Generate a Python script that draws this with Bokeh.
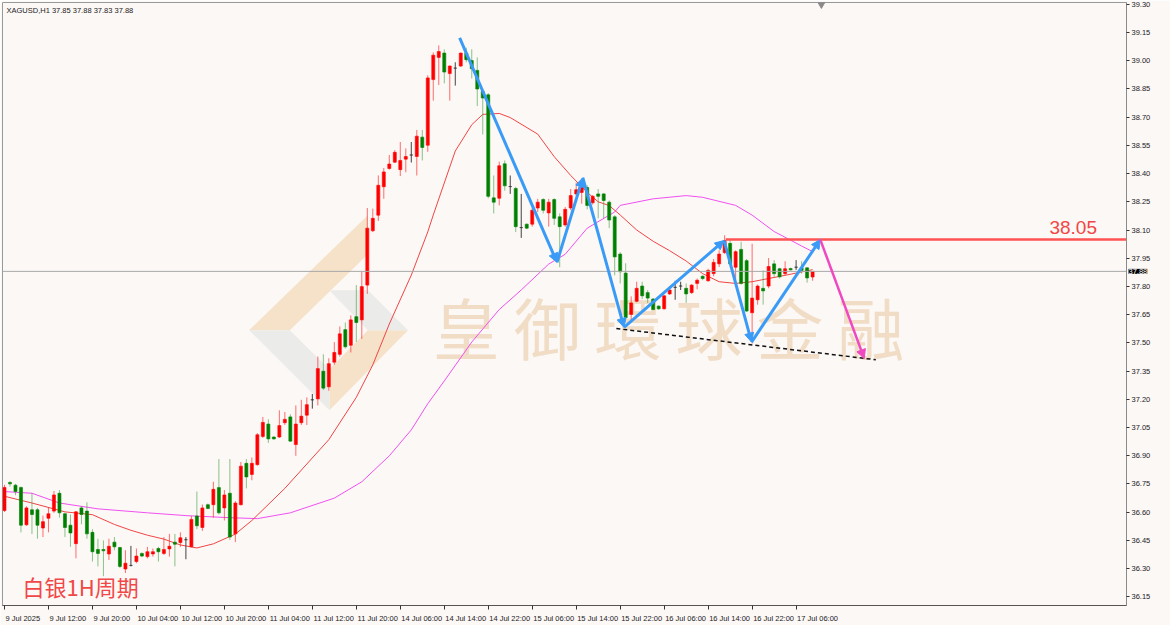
from bokeh.plotting import figure
from bokeh.models import (ColumnDataSource, Range1d, FixedTicker, Label, Span, LinearAxis,
                          Arrow, NormalHead, PrintfTickFormatter)
from bokeh.embed import file_html
from bokeh.resources import INLINE
from bokeh.core.properties import value

# ---------------- data (XAGUSD H1) ----------------
opens = [36.608, 36.757, 36.743, 36.731, 36.532, 36.612, 36.612, 36.515, 36.567, 36.605,
         36.700, 36.591, 36.530, 36.432, 36.622, 36.605, 36.492, 36.401, 36.401, 36.377,
         36.440, 36.411, 36.297, 36.316, 36.337, 36.380, 36.363, 36.377, 36.406, 36.380,
         36.404, 36.440, 36.438, 36.453, 36.415, 36.579, 36.518, 36.639, 36.639, 36.730,
         36.622, 36.700, 36.484, 36.639, 36.859, 36.800, 36.852, 37.002, 37.068, 36.999,
         36.999, 37.075, 37.106, 36.959, 37.075, 37.115, 37.197, 37.202, 37.349, 37.266,
         37.397, 37.439, 37.570, 37.487, 37.639, 37.622, 37.807, 38.096, 38.179, 38.330,
         38.427, 38.461, 38.421, 38.477, 38.499, 38.491, 38.594, 38.551, 38.900, 39.018,
         39.041, 38.932, 38.961, 38.972, 39.041, 39.001, 38.949, 38.837, 38.819, 38.271,
         38.269, 38.452, 38.331, 38.321, 38.113, 38.131, 38.131, 38.217, 38.262, 38.191,
         38.262, 38.170, 38.127, 38.217, 38.292, 38.300, 38.326, 38.245, 38.292, 38.292,
         38.248, 38.170, 37.972, 37.871, 37.651, 37.721, 37.802, 37.767, 37.733, 37.695,
         37.681, 37.760, 37.795, 37.802, 37.790, 37.767, 37.816, 37.854, 37.830, 37.868,
         37.920, 37.980, 38.029, 37.902, 37.997, 37.937, 37.660, 37.729, 37.790, 37.802,
         37.920, 37.894, 37.868, 37.895, 37.902, 37.899, 37.899, 37.850]
highs = [36.745, 36.765, 36.750, 36.735, 36.631, 36.700, 36.622, 36.581, 36.626, 36.712,
         36.717, 36.596, 36.587, 36.605, 36.631, 36.652, 36.509, 36.458, 36.449, 36.458,
         36.467, 36.415, 36.397, 36.420, 36.406, 36.385, 36.415, 36.406, 36.415, 36.467,
         36.484, 36.484, 36.492, 36.467, 36.579, 36.709, 36.640, 36.645, 36.761, 36.882,
         36.717, 36.882, 36.658, 36.866, 36.882, 36.890, 37.020, 37.106, 37.093, 37.003,
         37.141, 37.132, 37.120, 37.167, 37.197, 37.210, 37.228, 37.427, 37.439, 37.418,
         37.504, 37.587, 37.608, 37.646, 37.807, 37.882, 38.217, 38.214, 38.390, 38.430,
         38.499, 38.525, 38.568, 38.534, 38.568, 38.632, 38.632, 38.923, 39.044, 39.082,
         39.061, 38.975, 38.992, 39.043, 39.070, 39.061, 39.018, 38.845, 38.828, 38.390,
         38.464, 38.470, 38.390, 38.330, 38.292, 38.135, 38.217, 38.266, 38.269, 38.266,
         38.269, 38.188, 38.222, 38.318, 38.352, 38.352, 38.338, 38.286, 38.318, 38.297,
         38.257, 38.179, 37.982, 37.923, 37.747, 37.825, 37.825, 37.781, 37.738, 37.700,
         37.755, 37.799, 37.830, 37.825, 37.816, 37.812, 37.842, 37.859, 37.894, 37.946,
         37.992, 38.072, 38.049, 37.992, 38.037, 37.946, 38.027, 37.810, 37.885, 37.951,
         37.940, 37.899, 37.934, 37.900, 37.940, 37.934, 37.902, 37.880]
lows = [36.600, 36.735, 36.690, 36.492, 36.527, 36.483, 36.458, 36.467, 36.492, 36.596,
        36.570, 36.467, 36.415, 36.354, 36.535, 36.458, 36.337, 36.311, 36.259, 36.345,
        36.397, 36.302, 36.276, 36.311, 36.328, 36.360, 36.354, 36.363, 36.337, 36.372,
        36.363, 36.311, 36.415, 36.349, 36.413, 36.509, 36.500, 36.615, 36.570, 36.587,
        36.555, 36.451, 36.440, 36.635, 36.726, 36.769, 36.847, 36.994, 36.968, 36.985,
        36.994, 37.063, 36.974, 36.899, 37.063, 37.063, 37.150, 37.167, 37.249, 37.245,
        37.383, 37.427, 37.470, 37.449, 37.504, 37.521, 37.760, 38.089, 38.148, 38.266,
        38.421, 38.456, 38.387, 38.407, 38.459, 38.390, 38.470, 38.516, 38.788, 38.871,
        38.880, 38.788, 38.868, 38.967, 38.992, 38.906, 38.759, 38.608, 38.269, 38.188,
        38.231, 38.309, 38.292, 38.089, 38.058, 38.105, 38.118, 38.196, 38.188, 38.118,
        38.127, 37.902, 38.118, 38.205, 38.283, 38.240, 38.210, 38.235, 38.162, 38.162,
        38.110, 37.859, 37.816, 37.625, 37.617, 37.716, 37.733, 37.712, 37.674, 37.675,
        37.677, 37.755, 37.729, 37.781, 37.712, 37.760, 37.785, 37.833, 37.825, 37.854,
        37.903, 37.972, 37.916, 37.825, 37.810, 37.665, 37.496, 37.703, 37.703, 37.790,
        37.851, 37.842, 37.859, 37.885, 37.888, 37.868, 37.820, 37.830]
closes = [36.731, 36.750, 36.709, 36.530, 36.622, 36.587, 36.530, 36.549, 36.591, 36.691,
          36.596, 36.518, 36.489, 36.601, 36.587, 36.484, 36.389, 36.380, 36.394, 36.418,
          36.415, 36.311, 36.328, 36.316, 36.366, 36.366, 36.389, 36.389, 36.389, 36.401,
          36.418, 36.429, 36.463, 36.453, 36.561, 36.527, 36.622, 36.619, 36.721, 36.596,
          36.691, 36.467, 36.648, 36.844, 36.787, 36.859, 37.011, 37.077, 36.989, 36.989,
          37.060, 37.093, 36.977, 37.068, 37.110, 37.171, 37.197, 37.363, 37.259, 37.389,
          37.449, 37.548, 37.479, 37.622, 37.608, 37.799, 38.110, 38.162, 38.338, 38.409,
          38.451, 38.513, 38.470, 38.491, 38.499, 38.599, 38.539, 38.909, 39.030, 39.049,
          38.940, 38.972, 38.961, 39.041, 39.006, 38.958, 38.850, 38.802, 38.279, 38.248,
          38.442, 38.335, 38.331, 38.118, 38.113, 38.110, 38.205, 38.248, 38.205, 38.248,
          38.162, 38.118, 38.210, 38.283, 38.314, 38.326, 38.231, 38.279, 38.279, 38.257,
          38.153, 37.957, 37.878, 37.634, 37.712, 37.790, 37.750, 37.738, 37.677, 37.681,
          37.750, 37.781, 37.795, 37.802, 37.760, 37.807, 37.833, 37.842, 37.885, 37.928,
          37.972, 38.044, 37.920, 37.985, 37.816, 37.669, 37.738, 37.802, 37.776, 37.906,
          37.868, 37.851, 37.894, 37.888, 37.902, 37.885, 37.845, 37.880]

time_labels = ["9 Jul 2025", "9 Jul 12:00", "9 Jul 20:00", "10 Jul 04:00", "10 Jul 12:00",
               "10 Jul 20:00", "11 Jul 04:00", "11 Jul 12:00", "11 Jul 20:00", "14 Jul 06:00",
               "14 Jul 14:00", "14 Jul 22:00", "15 Jul 06:00", "15 Jul 14:00", "15 Jul 22:00",
               "16 Jul 06:00", "16 Jul 14:00", "16 Jul 22:00", "17 Jul 06:00"]
label_bars = [0, 8, 16, 24, 32, 40, 48, 56, 64, 72, 80, 88, 96, 104, 112, 120, 128, 136, 144]
price_ticks = [36.15, 36.30, 36.45, 36.60, 36.75, 36.90, 37.05, 37.20, 37.35, 37.50, 37.65,
               37.80, 37.95, 38.10, 38.25, 38.40, 38.55, 38.70, 38.85, 39.00, 39.15, 39.30]

ma_fast_bars = [0, 5, 11, 16, 20, 23, 26, 29, 32, 35, 38, 42, 45, 51, 59, 64, 67, 70, 74, 77,
                78, 82, 85, 87, 90, 92, 97, 100, 103, 106, 108, 110, 112, 115, 118, 121, 124,
                127, 130, 133, 136, 139, 142, 145, 147]
ma_fast_vals = [36.684, 36.648, 36.601, 36.586, 36.534, 36.503, 36.477, 36.456, 36.425, 36.409,
                36.431, 36.483, 36.555, 36.726, 36.985, 37.210, 37.383, 37.600, 37.860, 38.090,
                38.180, 38.520, 38.660, 38.715, 38.720, 38.698, 38.610, 38.490, 38.390, 38.300,
                38.250, 38.230, 38.180, 38.100, 38.040, 37.990, 37.935, 37.868, 37.825, 37.816,
                37.825, 37.842, 37.859, 37.877, 37.889]
ma_slow_bars = [0, 5, 10, 17, 26, 33, 41, 46, 52, 60, 65, 70, 74, 77, 80, 85, 90, 94, 99, 102,
                106, 111, 112, 118, 124, 127, 133, 136, 140, 145, 147]
ma_slow_vals = [36.709, 36.700, 36.648, 36.617, 36.596, 36.581, 36.570, 36.565, 36.596, 36.674,
                36.761, 36.899, 37.037, 37.176, 37.297, 37.504, 37.677, 37.781, 37.919, 37.971,
                38.110, 38.196, 38.231, 38.266, 38.283, 38.274, 38.231, 38.179, 38.092, 38.015,
                37.985]

wave_bars = [82.8, 100.5, 105.2, 112.7, 130.9, 135.9, 148.4]
wave_prices = [39.122, 37.928, 38.378, 37.582, 38.044, 37.504, 38.049]
proj_bars = [148.4, 156.4]
proj_prices = [38.049, 37.416]
level_price = 38.05
level_start_bar = 131.2
support_bars = [111.3, 158.5]
support_prices = [37.576, 37.410]
last_price = 37.88
shift_bar = 148.6
header_text = "XAGUSD,H1  37.85 37.88 37.83 37.88"
title_text = "白银1H周期"
watermark_chars = ["皇", "御", "環", "球", "金", "融"]

# decorative watermark logo (bar, price) polygons
logo_orange_xs = [[44.5, 66.1, 66.1, 51.9], [59.1, 59.1, 66.1, 73.4]]
logo_orange_ys = [[37.567, 38.179, 37.971, 37.567], [37.141, 37.359, 37.567, 37.567]]
logo_grey_xs = [[44.5, 51.9, 59.1, 59.1], [59.1, 66.1, 73.4, 66.1]]
logo_grey_ys = [[37.567, 37.567, 37.359, 37.141], [37.779, 37.779, 37.567, 37.567]]

# ---------------- figure ----------------
X0, X1 = -0.36, 204.1
Y0, Y1 = 36.103, 39.310
FRAME_W, FRAME_H = 1124, 603
BG = "#fcf8f6"
UP, DOWN, DOJI = "#ff0000", "#008000", "#303030"
BLUE = "#3a9bf7"
AX_FONT = "Liberation Sans"
AX_SIZE = 7.5

p = figure(frame_width=FRAME_W, frame_height=FRAME_H, x_range=Range1d(X0, X1),
           y_range=Range1d(Y0, Y1), output_backend="svg", toolbar_location=None,
           y_axis_location="right", x_axis_location=None, min_border=0,
           min_border_left=2, min_border_top=2, min_border_right=3, min_border_bottom=1)
p.background_fill_color = BG
p.border_fill_color = BG
p.outline_line_color = "#9a9a9a"
p.outline_line_width = 1
p.xgrid.visible = False
p.ygrid.visible = False

# watermark
p.patches(logo_orange_xs, logo_orange_ys, fill_color="#f5e2c8", line_color=None)
p.patches(logo_grey_xs, logo_grey_ys, fill_color="#ebebea", line_color=None)
wm_x = [84.0 + 14.72 * k for k in range(len(watermark_chars))]
p.text(x=wm_x, y=[37.593] * len(wm_x), text=watermark_chars,
       text_font=value("Noto Sans CJK TC"), text_font_size="67px", text_color="#f1dcc6",
       text_align="center", text_baseline="middle")

# moving averages
p.line(ma_slow_bars, ma_slow_vals, line_color="#f050f0", line_width=1)
p.line(ma_fast_bars, ma_fast_vals, line_color="#f04545", line_width=1)

# current price line
p.add_layout(Span(location=last_price, dimension="width", line_color="#a8a8a8", line_width=1))

# candles
bars = list(range(len(opens)))
body_col, wick_col, wick_alpha, tops, bots = [], [], [], [], []
for o, c in zip(opens, closes):
    if c > o:
        body_col.append(UP); wick_col.append("#ff3030"); wick_alpha.append(0.7)
    elif c < o:
        body_col.append(DOWN); wick_col.append("#3c9c3c"); wick_alpha.append(0.6)
    else:
        body_col.append(DOJI); wick_col.append(DOJI); wick_alpha.append(0.9)
    tops.append(max(o, c)); bots.append(min(o, c))
src = ColumnDataSource(dict(x=bars, h=highs, l=lows, top=tops, bot=bots,
                            bc=body_col, wc=wick_col, wa=wick_alpha))
p.segment(x0="x", y0="l", x1="x", y1="h", line_color="wc", line_alpha="wa",
          line_width=1, source=src)
p.vbar(x="x", width=0.55, top="top", bottom="bot", fill_color="bc", line_color="bc",
       line_width=0.6, source=src)

# resistance level 38.05
p.segment(x0=[level_start_bar], y0=[level_price], x1=[X1], y1=[level_price],
          line_color="#ff5252", line_width=2.5)
p.add_layout(Label(x=194.4, y=level_price, text="%.2f" % level_price, text_align="center",
                   text_baseline="bottom", y_offset=5, text_font="Liberation Sans",
                   text_font_size="19px", text_color="#f04646"))

# support dashed line
p.line(support_bars, support_prices, line_dash="4 3", line_color="#111111", line_width=1.5)

# zigzag arrows
for k in range(len(wave_bars) - 1):
    p.add_layout(Arrow(end=NormalHead(size=9, fill_color=BLUE, line_color=BLUE, line_width=1),
                       x_start=wave_bars[k], y_start=wave_prices[k],
                       x_end=wave_bars[k + 1], y_end=wave_prices[k + 1],
                       line_color=BLUE, line_width=3))
p.add_layout(Arrow(end=NormalHead(size=9, fill_color="#f048c0", line_color="#f048c0",
                                  line_width=1),
                   x_start=proj_bars[0], y_start=proj_prices[0],
                   x_end=proj_bars[1], y_end=proj_prices[1],
                   line_color="#f048c0", line_width=2.5))

# chart shift marker
p.scatter([shift_bar], [39.300], marker="inverted_triangle", size=7,
          fill_color="#8a8a8a", line_color="#8a8a8a")

# texts
p.add_layout(Label(x=X0, y=Y1, x_offset=4, y_offset=-3, text=header_text,
                   text_baseline="top", text_font="Liberation Sans", text_font_size="7.5px",
                   text_color="#222222"))
p.add_layout(Label(x=X0, y=Y0, x_offset=20, y_offset=4, text=title_text,
                   text_baseline="bottom", text_font="Noto Sans CJK SC", text_font_size="22px",
                   text_color="#f04848"))

# ---------------- axes ----------------
p.yaxis.ticker = FixedTicker(ticks=price_ticks)
p.yaxis.formatter = PrintfTickFormatter(format="%.2f")
p.yaxis.axis_line_color = "#8a8a8a"
p.yaxis.major_tick_line_color = "#333333"
p.yaxis.major_tick_in = 0
p.yaxis.major_tick_out = 3
p.yaxis.minor_tick_line_color = None
p.yaxis.major_label_text_font = AX_FONT
p.yaxis.major_label_text_font_size = "%gpx" % AX_SIZE
p.yaxis.major_label_text_color = "#222222"
p.yaxis.major_label_standoff = 2

# time axis: tick marks (minor ticks) at the label bars, each label left-aligned to its mark
char_w = {" ": 0.278, ":": 0.278, "J": 0.5, "u": 0.556, "l": 0.222}
px_per_bar = FRAME_W / (X1 - X0)
lab_ticks, lab_over = [], {}
for b, t in zip(label_bars, time_labels):
    w = sum(char_w.get(ch, 0.556) for ch in t) * AX_SIZE
    pos = int(round(100 * (b + (w / 2 + 1) / px_per_bar)))
    lab_ticks.append(pos)
    lab_over[pos] = t
p.extra_x_ranges = {"lab": Range1d(X0 * 100, X1 * 100)}
time_axis = LinearAxis(x_range_name="lab",
                       ticker=FixedTicker(ticks=lab_ticks, minor_ticks=[100 * b for b in label_bars]),
                       major_label_overrides=lab_over, axis_line_color="#555555",
                       major_tick_line_color=None, minor_tick_line_color="#333333",
                       minor_tick_in=0, minor_tick_out=4,
                       major_label_standoff=2, major_label_text_font=AX_FONT,
                       major_label_text_font_size="%gpx" % AX_SIZE,
                       major_label_text_color="#222222")
p.add_layout(time_axis, "below")

# current-price box on the price axis
p.add_layout(Label(x=X1, y=last_price, x_offset=2, text="%.2f" % last_price,
                   text_baseline="middle", text_align="left", text_font=AX_FONT,
                   text_font_size="%gpx" % AX_SIZE, text_color="white",
                   background_fill_color="black"), "right")

open("out.html", "w").write(file_html(p, INLINE))
